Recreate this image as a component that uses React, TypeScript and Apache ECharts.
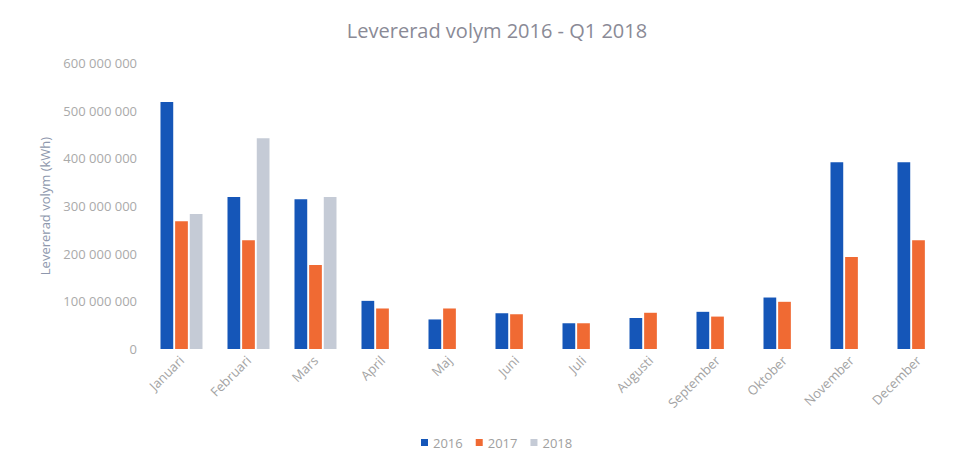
import React, { useEffect, useRef } from "react";
import * as echarts from "echarts";

const months = ["Januari", "Februari", "Mars", "April", "Maj", "Juni", "Juli", "Augusti", "September", "Oktober", "November", "December"];
const v2016 = [518e6, 319e6, 314e6, 101e6, 62e6, 75e6, 54e6, 65e6, 78e6, 108e6, 392e6, 392e6];
const v2017 = [268e6, 228e6, 176e6, 85e6, 85e6, 73e6, 54e6, 76e6, 68e6, 99e6, 193e6, 228e6];
const v2018 = [283e6, 442e6, 319e6, null, null, null, null, null, null, null, null, null];
const yTicks = { min: 0, max: 600e6, interval: 100e6 };

const fmt = (v: number) => String(Math.round(v)).replace(/\B(?=(\d{3})+(?!\d))/g, " ");

export default function App() {
  const ref = useRef<HTMLDivElement>(null);
  useEffect(() => {
    if (!ref.current) return;
    const chart = echarts.init(ref.current, null, { renderer: "svg" });
    const font = "'Open Sans', 'Liberation Sans', sans-serif";
    chart.setOption({
      animation: false,
      title: {
        text: "Levererad volym 2016 - Q1 2018",
        left: 492,
        textAlign: "center",
        top: 15,
        textStyle: { fontSize: 20, fontWeight: "normal", color: "#8a8a96", fontFamily: font },
      },
      legend: {
        bottom: 11,
        left: 416,
        itemWidth: 7,
        itemHeight: 7,
        itemGap: 13,
        icon: "rect",
        textStyle: { fontSize: 13, color: "#a0a0a0", fontFamily: font },
        data: ["2016", "2017", "2018"],
      },
      grid: { left: 148, right: 5, top: 63, bottom: 116, containLabel: false },
      xAxis: {
        type: "category",
        data: months,
        axisLine: { show: false },
        axisTick: { show: false },
        axisLabel: { rotate: 45, fontSize: 13, color: "#a3a3a3", fontFamily: font, margin: 9 },
      },
      yAxis: {
        type: "value",
        min: yTicks.min,
        max: yTicks.max,
        interval: yTicks.interval,
        name: "Levererad volym (kWh)",
        nameLocation: "middle",
        nameGap: 97,
        nameTextStyle: { fontSize: 13, color: "#8e98ad", fontFamily: font },
        axisLine: { show: false },
        axisTick: { show: false },
        splitLine: { show: false },
        axisLabel: { fontSize: 13, color: "#aaaaaa", fontFamily: font, margin: 11, formatter: fmt },
      },
      series: [
        { name: "2016", type: "bar", data: v2016, barWidth: "19%", barGap: "15%", itemStyle: { color: "#1556b8" } },
        { name: "2017", type: "bar", data: v2017, barWidth: "19%", barGap: "15%", itemStyle: { color: "#f06a33" } },
        { name: "2018", type: "bar", data: v2018, barWidth: "19%", barGap: "15%", itemStyle: { color: "#c5cbd6" } },
      ],
    });
    return () => chart.dispose();
  }, []);
  return <div ref={ref} style={{ position: "absolute", left: 0, top: 0, width: 957, height: 465 }} />;
}
